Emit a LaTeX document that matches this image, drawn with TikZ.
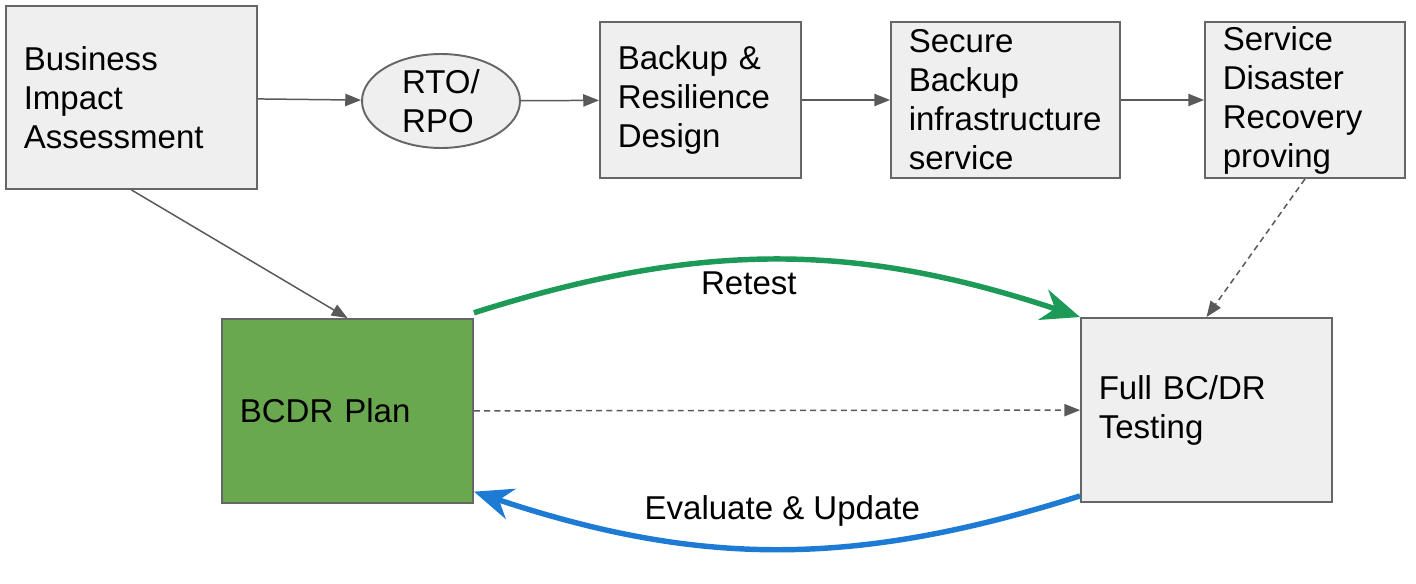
\documentclass[tikz,border=0pt]{standalone}
\usepackage{fontspec}
\setmainfont{Liberation Sans}
\usetikzlibrary{shapes.geometric,arrows.meta}
\definecolor{boxfill}{HTML}{EFEFEF}
\definecolor{boxline}{HTML}{666666}
\definecolor{planfill}{HTML}{6AA84F}
\definecolor{linkgray}{HTML}{595959}
\definecolor{retestgreen}{HTML}{1E9A58}
\definecolor{updateblue}{HTML}{1E7BD3}
\newcommand{\bigtxt}{\fontsize{18.8pt}{22.2pt}\selectfont}
\tikzset{
  box/.style={draw=boxline, line width=1.1pt, fill=boxfill, align=left,
    inner xsep=10pt, inner ysep=0pt, font=\bigtxt},
  oval/.style={ellipse, draw=boxline, line width=1.1pt, fill=boxfill, align=left,
    inner sep=0pt, font=\bigtxt},
  link/.style={draw=linkgray, line width=0.85pt, -{Triangle[length=9pt,width=7pt]}},
  dashlink/.style={link, dash pattern=on 3.4pt off 2.4pt},
  retest/.style={draw=retestgreen, line width=3.1pt, -{Stealth[length=22pt,width=18pt,inset=7pt]}},
  update/.style={draw=updateblue, line width=3.1pt, -{Stealth[length=22pt,width=18pt,inset=7pt]}},
  lbl/.style={font=\bigtxt, inner sep=2pt}
}
\begin{document}
\begin{tikzpicture}[x=0.02cm, y=-0.02cm]
  \useasboundingbox (0,0) rectangle (1416,584);
  \node[box, minimum width=5.02cm, minimum height=3.66cm, text width=4.31cm]
    (bia) at (131.5,97.5) {Business\\Impact\\Assessment};
  \node[oval, minimum width=3.16cm, minimum height=1.88cm]
    (rto) at (441,101) {RTO/\\RPO};
  \node[box, minimum width=4.02cm, minimum height=3.12cm, text width=3.31cm]
    (backup) at (700.5,100) {Backup \&\\Resilience\\Design};
  \node[box, minimum width=4.58cm, minimum height=3.12cm, text width=3.87cm]
    (secure) at (1005.5,100) {Secure\\Backup\\infrastructure\\service};
  \node[box, minimum width=4.00cm, minimum height=3.12cm, text width=3.29cm]
    (service) at (1305,100) {Service\\Disaster\\Recovery\\proving};
  \node[box, fill=planfill, minimum width=5.02cm, minimum height=3.68cm, text width=4.31cm]
    (plan) at (347.5,411) {BCDR Plan};
  \node[box, minimum width=5.02cm, minimum height=3.68cm, text width=4.31cm]
    (full) at (1206.5,410) {Full BC/DR\\Testing};

  \draw[link] (bia) -- (rto);
  \draw[link] (rto) -- (backup);
  \draw[link] (backup) -- (secure);
  \draw[link] (secure) -- (service);
  \draw[link] (bia.south) -- (plan.north);
  \draw[dashlink] (service.south) -- (full.north);
  \draw[dashlink] (plan) -- (full);

  \draw[retest] ([yshift=3pt]plan.north east) to[bend left=18]
    node[lbl, pos=0.45, below=3pt] (retestlbl) {Retest} (full.north west);
  \draw[update] ([yshift=4pt]full.south west) to[bend left=18]
    node[lbl, pos=0.49, above=9pt] (updatelbl) {Evaluate \& Update} ([yshift=7pt]plan.south east);
\end{tikzpicture}
\end{document}
